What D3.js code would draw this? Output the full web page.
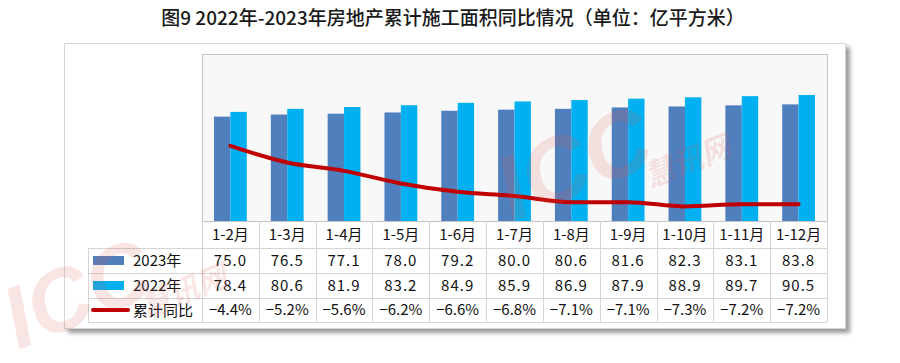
<!DOCTYPE html>
<html>
<head>
<meta charset="utf-8">
<script src="https://cdn.jsdelivr.net/npm/d3@7"></script>
<style>
  body { margin: 0; background: #fff; }
  svg { display: block; font-family: "Noto Sans CJK SC", "Noto Sans", sans-serif; }
</style>
</head>
<body>
<div id="vis"></div>
<script>
// data
const months = ["1-2月","1-3月","1-4月","1-5月","1-6月","1-7月","1-8月","1-9月","1-10月","1-11月","1-12月"];
const area2023 = [75.0, 76.5, 77.1, 78.0, 79.2, 80.0, 80.6, 81.6, 82.3, 83.1, 83.8];
const area2022 = [78.4, 80.6, 81.9, 83.2, 84.9, 85.9, 86.9, 87.9, 88.9, 89.7, 90.5];
const yoy = [-4.4, -5.2, -5.6, -6.2, -6.6, -6.8, -7.1, -7.1, -7.3, -7.2, -7.2];

const width = 900, height = 363;
const c2023 = "#4f7fbd", c2022 = "#00b0f0", cLine = "#c00000";
const grid = "#d4d4d4";

const svg = d3.select("#vis").append("svg")
  .attr("width", width)
  .attr("height", height);

const defs = svg.append("defs");
defs.append("filter").attr("id", "shadow")
  .attr("x", "-5%").attr("y", "-5%").attr("width", "110%").attr("height", "115%")
  .append("feGaussianBlur").attr("stdDeviation", 2);

// title
svg.append("text")
  .attr("x", 453).attr("y", 25)
  .attr("text-anchor", "middle")
  .style("font-size", "19px")
  .style("font-weight", "500")
  .style("fill", "#1a1a1a")
  .text("图9 2022年-2023年房地产累计施工面积同比情况（单位：亿平方米）");

// outer frame with shadow
svg.append("rect")
  .attr("x", 68).attr("y", 47).attr("width", 782).attr("height", 286)
  .attr("fill", "#999").attr("filter", "url(#shadow)");
svg.append("rect")
  .attr("x", 64.5).attr("y", 43.5).attr("width", 781).attr("height", 285)
  .attr("fill", "#fff").attr("stroke", "#d6d6d6");

// plot area
const pLeft = 202, pRight = 827, pTop = 54, pBottom = 221;
svg.append("rect")
  .attr("x", pLeft + 0.5).attr("y", pTop + 0.5)
  .attr("width", pRight - pLeft).attr("height", pBottom - pTop)
  .attr("fill", "#f8f8f8").attr("stroke", "#c4c4c4");

const x = d3.scaleBand().domain(months).range([pLeft, pRight]);
const y = d3.scaleLinear().domain([0, 120]).range([pBottom, pTop]);
const y2 = d3.scaleLinear().domain([-8, 0]).range([pBottom, pTop]);
const bw = 16.4;

svg.append("g").selectAll("rect")
  .data(months)
  .join("rect")
  .attr("x", d => x(d) + x.bandwidth() / 2 - bw)
  .attr("y", (d, i) => y(area2023[i]))
  .attr("width", bw)
  .attr("height", (d, i) => pBottom - y(area2023[i]))
  .attr("fill", c2023);

svg.append("g").selectAll("rect")
  .data(months)
  .join("rect")
  .attr("x", d => x(d) + x.bandwidth() / 2)
  .attr("y", (d, i) => y(area2022[i]))
  .attr("width", bw)
  .attr("height", (d, i) => pBottom - y(area2022[i]))
  .attr("fill", c2022);

const line = d3.line()
  .x((d, i) => x(months[i]) + x.bandwidth() / 2)
  .y(d => y2(d))
  .curve(d3.curveMonotoneX);

svg.append("path")
  .datum(yoy)
  .attr("d", line)
  .attr("fill", "none")
  .attr("stroke", cLine)
  .attr("stroke-width", 4)
  .attr("stroke-linecap", "round");

// data table
const rowY = [221, 248, 273, 298, 322];
const legLeft = 88;
const tbl = svg.append("g").attr("stroke", grid).attr("shape-rendering", "crispEdges");

x.range().concat(months.map(m => x(m))).forEach(v => {
  tbl.append("line").attr("x1", v + 0.5).attr("x2", v + 0.5)
    .attr("y1", rowY[0]).attr("y2", rowY[4]);
});
tbl.append("line").attr("x1", legLeft + 0.5).attr("x2", legLeft + 0.5)
  .attr("y1", rowY[1]).attr("y2", rowY[4]);
rowY.slice(1).forEach(v => {
  tbl.append("line").attr("x1", legLeft).attr("x2", pRight)
    .attr("y1", v + 0.5).attr("y2", v + 0.5);
});

const txt = svg.append("g").style("font-size", "15px").style("fill", "#111");

months.forEach((m, i) => {
  const cx = x(m) + x.bandwidth() / 2;
  txt.append("text").attr("x", cx).attr("y", 240).attr("text-anchor", "middle").text(m);
  txt.append("text").attr("x", cx).attr("y", 266).attr("text-anchor", "middle")
    .style("letter-spacing", "1px").text(area2023[i].toFixed(1));
  txt.append("text").attr("x", cx).attr("y", 291).attr("text-anchor", "middle")
    .style("letter-spacing", "1px").text(area2022[i].toFixed(1));
  txt.append("text").attr("x", cx).attr("y", 315).attr("text-anchor", "middle")
    .text("−" + Math.abs(yoy[i]).toFixed(1) + "%");
});

// legend column
const legend = [
  { name: "2023年", color: c2023, type: "bar" },
  { name: "2022年", color: c2022, type: "bar" },
  { name: "累计同比", color: cLine, type: "line" }
];
legend.forEach((d, i) => {
  const cy = (rowY[i + 1] + rowY[i + 2]) / 2;
  if (d.type === "bar") {
    svg.append("rect").attr("x", 93).attr("y", cy - 4.5)
      .attr("width", 31).attr("height", 9).attr("fill", d.color);
  } else {
    svg.append("line").attr("x1", 93).attr("x2", 128)
      .attr("y1", cy).attr("y2", cy)
      .attr("stroke", d.color).attr("stroke-width", 4).attr("stroke-linecap", "round");
  }
  txt.append("text").attr("x", 133).attr("y", cy + 5.5).text(d.name);
});

// watermarks, drawn over the chart
const wm = svg.append("g").style("fill", "#e05a5a").style("opacity", 0.16)
  .style("font-weight", "bold").style("font-style", "italic");
wm.append("text")
  .attr("transform", "translate(512,222) rotate(-22)")
  .style("font-size", "92px").style("font-family", "Liberation Sans, sans-serif")
  .text("ICC");
wm.append("text")
  .attr("transform", "translate(650,188) rotate(-22)")
  .style("font-size", "30px")
  .text("慧讯网");
wm.append("text")
  .attr("transform", "translate(18,350) rotate(-22)")
  .style("font-size", "88px").style("font-family", "Liberation Sans, sans-serif")
  .text("ICC");
wm.append("text")
  .attr("transform", "translate(146,318) rotate(-22)")
  .style("font-size", "30px")
  .text("慧讯网");
</script>
</body>
</html>
